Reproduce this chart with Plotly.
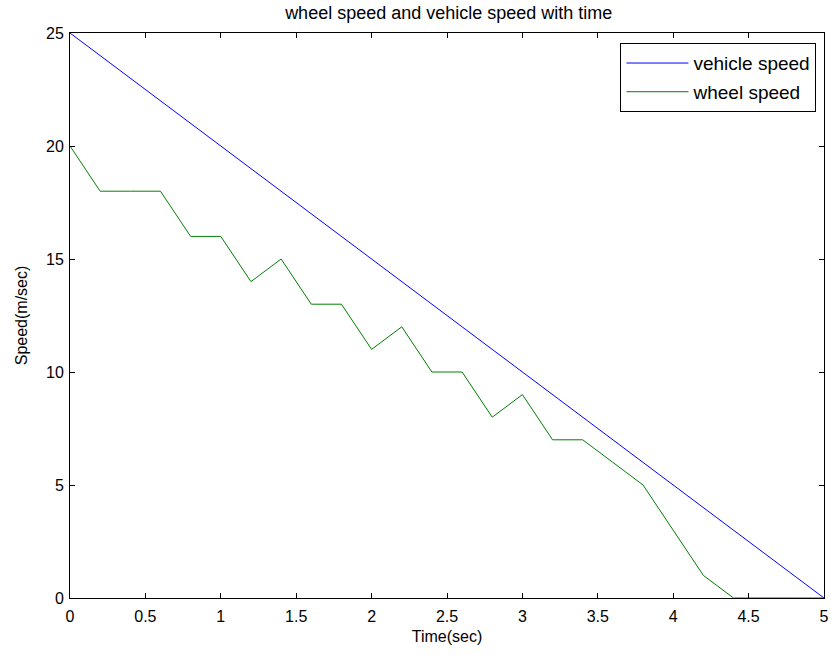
import plotly.graph_objects as go

time = [0, 0.2, 0.4, 0.6, 0.8, 1.0, 1.2, 1.4, 1.6, 1.8, 2.0, 2.2, 2.4, 2.6, 2.8, 3.0, 3.2, 3.4, 3.6, 3.8, 4.0, 4.2, 4.4, 4.6, 4.8, 5.0]
vehicle_speed = [25, 24, 23, 22, 21, 20, 19, 18, 17, 16, 15, 14, 13, 12, 11, 10, 9, 8, 7, 6, 5, 4, 3, 2, 1, 0]
wheel_speed = [20, 18, 18, 18, 16, 16, 14, 15, 13, 13, 11, 12, 10, 10, 8, 9, 7, 7, 6, 5, 3, 1, 0, 0, 0, 0]
x_ticks = [0, 0.5, 1, 1.5, 2, 2.5, 3, 3.5, 4, 4.5, 5]
y_ticks = [0, 5, 10, 15, 20, 25]

fig = go.Figure()
fig.add_trace(go.Scatter(x=time, y=vehicle_speed, mode="lines", name="vehicle speed", legendgroup="a",
                         line=dict(color="#0000ff", width=1)))
fig.add_trace(go.Scatter(x=time, y=wheel_speed, mode="lines", name="wheel speed", legendgroup="b",
                         line=dict(color="#008000", width=1)))

axis_common = dict(showgrid=False, zeroline=False, showline=True, linecolor="black", linewidth=1,
                   mirror="ticks", ticks="inside", ticklen=5, tickcolor="black",
                   tickfont=dict(size=16, color="black"), automargin=False)
fig.update_layout(
    width=831, height=657,
    margin=dict(l=70, r=7, t=33, b=59),
    paper_bgcolor="white", plot_bgcolor="white",
    font=dict(family="Liberation Sans, Arial, sans-serif", size=16, color="black"),
    title=dict(text="wheel speed and vehicle speed with time", x=0.54, xanchor="center",
               y=0.99, yanchor="top", font=dict(size=18)),
    xaxis=dict(range=[0, 5], tickvals=x_ticks, ticktext=[str(v) for v in x_ticks], ticklabelstandoff=4,
               title=dict(text="Time(sec)", standoff=6, font=dict(size=16)), **axis_common),
    yaxis=dict(range=[0, 25], tickvals=y_ticks, ticklabelstandoff=2,
               title=dict(text="Speed(m/sec)", standoff=14, font=dict(size=16)),
               **axis_common),
    legend=dict(x=0.99, y=0.982, xanchor="right", yanchor="top", bordercolor="black", borderwidth=1,
                bgcolor="white", font=dict(size=19), tracegroupgap=1, itemwidth=62),
    showlegend=True,
)
fig.write_html("out.html")
